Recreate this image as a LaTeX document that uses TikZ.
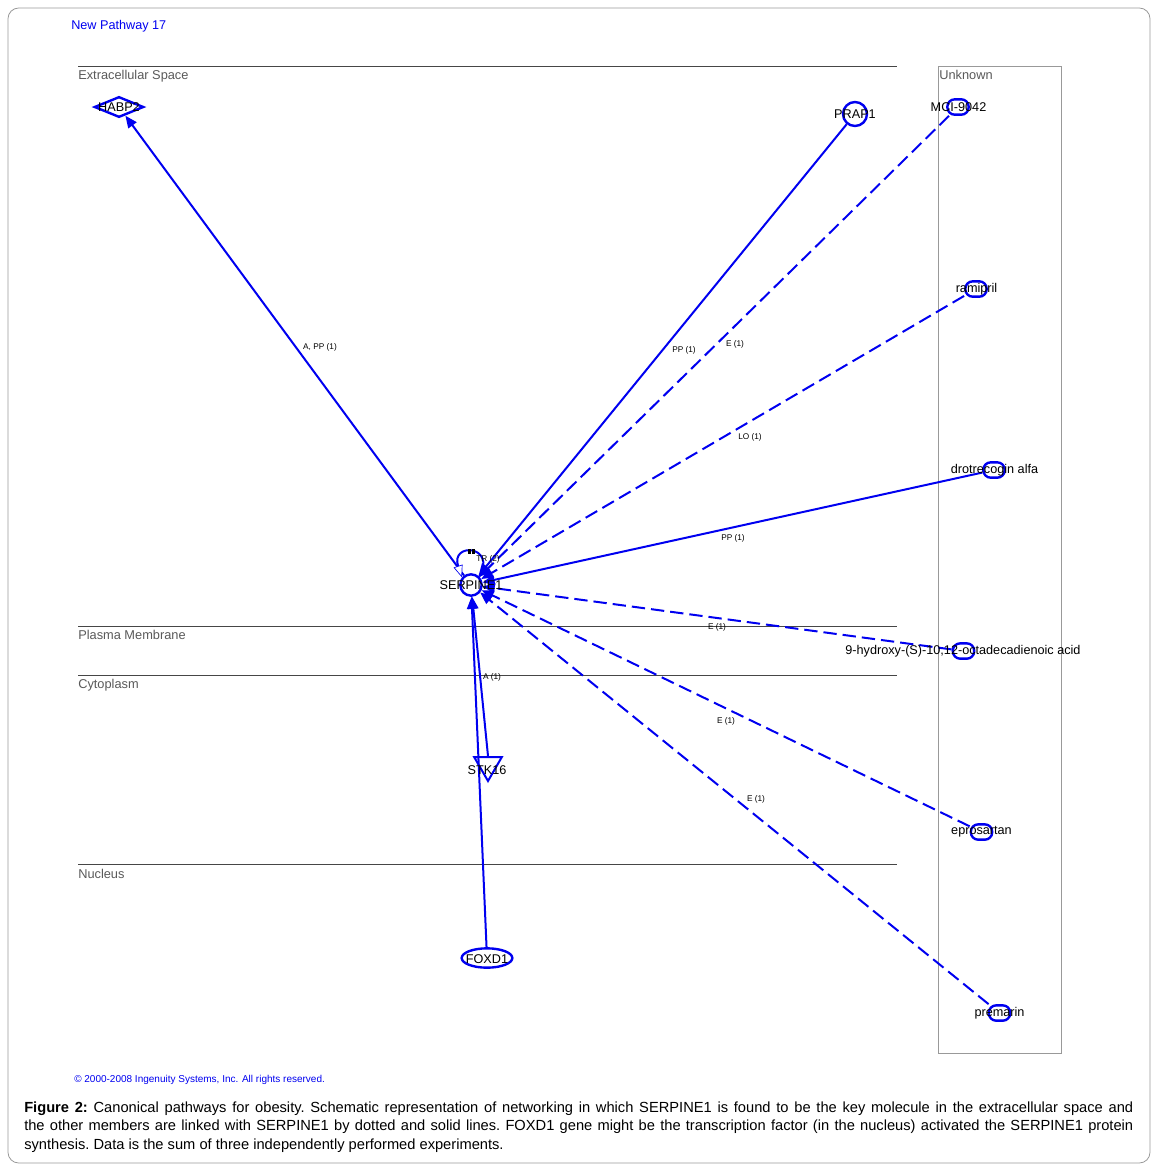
\documentclass[tikz,border=0pt]{standalone}
\usepackage{fontspec}
\setmainfont{Liberation Sans}
\usetikzlibrary{arrows.meta,shapes.geometric}
\definecolor{pblue}{RGB}{0,0,240}
\definecolor{regline}{RGB}{70,70,70}
\definecolor{regtext}{RGB}{90,90,90}
\begin{document}
\begin{tikzpicture}[x=0.75pt,y=-0.75pt,
  mol/.style={draw=pblue, line width=1.8pt, inner sep=0pt},
  drug/.style={mol, rectangle, rounded corners=5.5pt, minimum width=16pt, minimum height=11.5pt},
  lbl/.style={font=\fontsize{9.5}{11}\selectfont, inner sep=0pt, text=black},
  reglbl/.style={font=\fontsize{9.6}{11}\selectfont, inner sep=0pt, text=regtext, anchor=base west},
  elbl/.style={font=\fontsize{6.2}{7}\selectfont, inner sep=0pt, text=black},
  rel/.style={draw=pblue, line width=1.5pt, -{Triangle[length=9pt,width=7.5pt]}},
  dsh/.style={rel, dash pattern=on 10pt off 4.5pt}]
\useasboundingbox (0,0) rectangle (1157,1168);
\fill[white] (0,0) rectangle (1157,1168);
\draw[gray!80, line width=0.6pt, rounded corners=8pt] (8,8) rectangle (1150,1163);

% title
\node[font=\fontsize{9.5}{11}\selectfont, text=pblue, inner sep=0pt, anchor=base west] (title) at (71,29) {New Pathway 17};

% regions
\draw[regline, line width=0.6pt] (78,66) -- (897,66);
\draw[regline, line width=0.6pt] (78,626) -- (897,626);
\draw[regline, line width=0.6pt] (78,675) -- (897,675);
\draw[regline, line width=0.6pt] (78,864) -- (897,864);
\draw[gray!80, line width=0.6pt] (938,66) rectangle (1061,1053);
\node[reglbl] (rExt) at (78,79) {Extracellular Space};
\node[reglbl] (rPM) at (78,639) {Plasma Membrane};
\node[reglbl] (rCyt) at (78,688) {Cytoplasm};
\node[reglbl] (rNuc) at (78,878) {Nucleus};
\node[reglbl] (rUnk) at (939,79) {Unknown};

% molecule shapes
\node[mol, circle, minimum size=16pt] (serp) at (471,585) {};
\node[mol, diamond, minimum width=37pt, minimum height=15.5pt] (habp) at (119,107) {};
\node[mol, circle, minimum size=18pt] (prap) at (855,114) {};
\node[drug] (mci) at (958,107) {};
\node[drug] (rami) at (976,289) {};
\node[drug] (drot) at (994,470) {};
\node[drug] (hydr) at (963.5,651) {};
\node[drug] (epro) at (981.5,832) {};
\node[drug] (prem) at (999.5,1013) {};
\node[draw=pblue, line width=1.5pt, regular polygon, regular polygon sides=3, shape border rotate=180, minimum size=24pt, inner sep=0pt] (stk) at (488,765) {};
\node[mol, ellipse, minimum width=38pt, minimum height=14.5pt] (foxd) at (487,958) {};

% edges
\draw[rel] (serp) -- (habp);
\draw[rel] (prap) -- (serp);
\draw[dsh] (mci) -- (serp);
\draw[dsh] (rami) -- (serp);
\draw[rel] (drot) -- (serp);
\draw[dsh] (hydr) -- (serp);
\draw[dsh] (epro) -- (serp);
\draw[dsh] (prem) -- (serp);
\draw[rel] (stk.north) -- (serp);
\draw[rel] (foxd) -- (serp);
% self loop
\draw[draw=pblue, line width=1.5pt, -{Triangle[length=9pt,width=7pt,fill=white,line width=0.5pt]}] (serp.45) .. controls (497,545) and (450,542) .. (serp.140);
\fill[black] (467.5,548.5) rectangle (470.5,554);
\fill[black] (472,548.5) rectangle (475,554);

% molecule labels
\node[lbl] (serpL) at (471,585) {SERPINE1};
\node[lbl] (habpL) at (119,107) {HABP2};
\node[lbl] (prapL) at (855,114) {PRAP1};
\node[lbl] (mciL) at (958.5,107) {MCI-9042};
\node[lbl] (ramiL) at (976.5,289) {ramipril};
\node[lbl] (drotL) at (994.5,470) {drotrecogin alfa};
\node[lbl] (hydrL) at (963,651) {9-hydroxy-(S)-10,12-octadecadienoic acid};
\node[lbl] (eproL) at (981.5,832) {eprosartan};
\node[lbl] (premL) at (999.5,1013) {premarin};
\node[lbl] (stkL) at (487,770) {STK16};
\node[lbl] (foxdL) at (487,959) {FOXD1};

% edge labels
\node[elbl] (e1) at (320,347) {A, PP (1)};
\node[elbl] (e2) at (684,350) {PP (1)};
\node[elbl] (e3) at (735,344) {E (1)};
\node[elbl] (e4) at (750,437) {LO (1)};
\node[elbl] (e5) at (733,538) {PP (1)};
\node[elbl] (e6) at (717,627) {E (1)};
\node[elbl] (e7) at (492,677) {A (1)};
\node[elbl] (e8) at (726,721) {E (1)};
\node[elbl] (e9) at (756,799) {E (1)};
\node[elbl] (e10) at (488,559) {TR (2)};

% copyright
\node[font=\fontsize{7.5}{8}\selectfont, text=pblue, inner sep=0pt, anchor=base west] (copy) at (74,1082) {© 2000-2008 Ingenuity Systems, Inc. All rights reserved.};

% caption
\node[inner sep=0pt, anchor=base west] (cap) at (24,1112) {\parbox[t]{831.75pt}{\frenchspacing\fontsize{11}{13.9}\selectfont\textbf{Figure 2:} Canonical pathways for obesity. Schematic representation of networking in which SERPINE1 is found to be the key molecule in the extracellular space and\linebreak the other members are linked with SERPINE1 by dotted and solid lines. FOXD1 gene might be the transcription factor (in the nucleus) activated the SERPINE1 protein\linebreak synthesis. Data is the sum of three independently performed experiments.}};
\end{tikzpicture}
\end{document}
